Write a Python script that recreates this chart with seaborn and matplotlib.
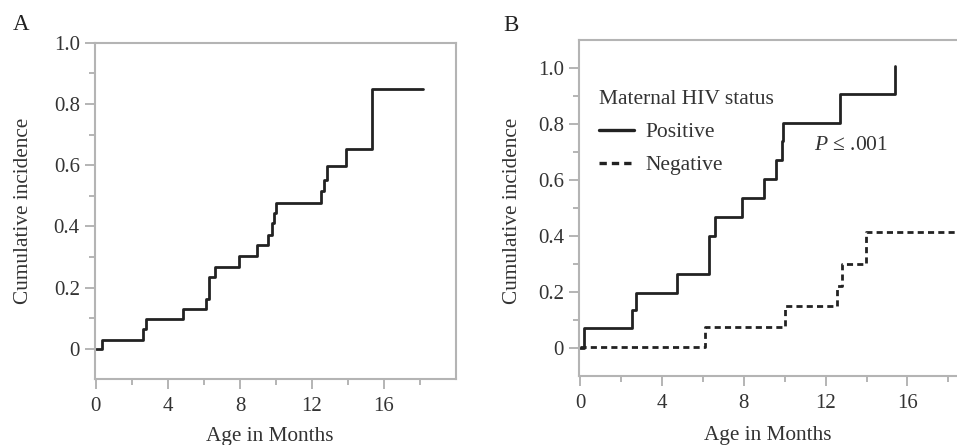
import numpy as np
import pandas as pd
import matplotlib
matplotlib.use("Agg")
import matplotlib.pyplot as plt
import seaborn as sns

# ---------------- data ----------------
# Panel A: overall cumulative incidence (step points, steps-post)
months_A = [0, 0.33, 2.6, 2.79, 4.82, 6.11, 6.3, 6.6, 7.96, 8.92, 9.56, 9.8, 9.88,
            10.02, 12.52, 12.66, 12.83, 13.9, 15.34, 18.18]
incidence_A = [0, 0.03, 0.063, 0.096, 0.13, 0.164, 0.234, 0.266, 0.302, 0.338, 0.37,
               0.41, 0.443, 0.476, 0.516, 0.552, 0.596, 0.653, 0.848, 0.848]

# Panel B: by maternal HIV status
months_pos = [0, 0.2, 2.54, 2.72, 4.71, 6.3, 6.61, 7.93, 8.97, 9.56, 9.84, 9.9, 12.69, 15.37]
incidence_pos = [0, 0.071, 0.135, 0.196, 0.263, 0.4, 0.468, 0.536, 0.602, 0.67, 0.74,
                 0.805, 0.906, 1.007]
months_neg = [0, 6.09, 10.0, 12.56, 12.8, 13.96, 18.6]
incidence_neg = [0.004, 0.075, 0.15, 0.221, 0.298, 0.412, 0.412]

status_labels = ["Positive", "Negative"]
legend_title = "Maternal HIV status"
p_text = r"$P$" + " \u2264 .001"

x_major = [0, 4, 8, 12, 16]
x_minor = [2, 6, 10, 14, 18]
y_major = [0, 0.2, 0.4, 0.6, 0.8, 1.0]
y_major_labels = ["0", "0.2", "0.4", "0.6", "0.8", "1.0"]
y_minor = [0.1, 0.3, 0.5, 0.7, 0.9]

# ---------------- style ----------------
sns.set_style("ticks")
plt.rcParams['font.family'] = ['Liberation Serif', 'DejaVu Serif']
plt.rcParams['mathtext.fontset'] = 'custom'
plt.rcParams['mathtext.it'] = 'Liberation Serif:italic'
plt.rcParams['mathtext.rm'] = 'Liberation Serif'

LINE = "#222222"
SPINE = "#b4b4b4"
TEXT = "#333333"
LW = 2.0
TICK_FS = 15
LABEL_FS = 15.3
LEG_FS = 15.5

fig = plt.figure(figsize=(9.57, 4.45), dpi=100)
axA = fig.add_axes([0.0993, 0.1476, 0.3772, 0.7564])
axB = fig.add_axes([0.6053, 0.1557, 0.4284, 0.7544])

dfA = pd.DataFrame({"month": months_A, "inc": incidence_A})
sns.lineplot(data=dfA, x="month", y="inc", ax=axA, color=LINE, lw=LW,
             drawstyle="steps-post", estimator=None, sort=False)

dfB = pd.concat([
    pd.DataFrame({"month": months_pos, "inc": incidence_pos, "status": status_labels[0]}),
    pd.DataFrame({"month": months_neg, "inc": incidence_neg, "status": status_labels[1]}),
], ignore_index=True)
sns.lineplot(data=dfB, x="month", y="inc", hue="status", style="status", ax=axB,
             palette={status_labels[0]: LINE, status_labels[1]: LINE},
             dashes={status_labels[0]: "", status_labels[1]: (2.2, 1.5)},
             lw=LW, drawstyle="steps-post", estimator=None, sort=False)

for ax, ylim in ((axA, (-0.1, 1.0)), (axB, (-0.1, 1.1))):
    ax.set_xlim(-0.05, 20)
    ax.set_ylim(*ylim)
    ax.set_xticks(x_major)
    ax.set_xticklabels([str(v) for v in x_major])
    ax.set_xticks(x_minor, minor=True)
    ax.set_yticks(y_major)
    ax.set_yticklabels(y_major_labels)
    ax.set_yticks(y_minor, minor=True)
    for s in ax.spines.values():
        s.set_visible(True)
        s.set_color(SPINE)
        s.set_linewidth(1.5)
    ax.tick_params(which="major", direction="out", length=7, width=1.4, color=SPINE,
                   labelsize=TICK_FS, labelcolor=TEXT)
    ax.tick_params(which="minor", direction="out", length=4.5, width=1.4, color=SPINE)
    ax.tick_params(axis="x", which="major", pad=6)
    ax.tick_params(axis="y", which="major", pad=4)
    ax.set_xlabel("Age in Months", fontsize=LABEL_FS, color=TEXT)
    ax.set_ylabel("Cumulative incidence", fontsize=LABEL_FS, color=TEXT)

axA.yaxis.set_label_coords(-0.172, 0.501)
axA.xaxis.set_label_coords(0.485, -0.143)
axB.yaxis.set_label_coords(-0.14, 0.4915)
axB.xaxis.set_label_coords(0.46, -0.151)

handles, labels = axB.get_legend_handles_labels()
for h in handles:
    h.set_linewidth(2.4)
leg = axB.legend(handles, labels, title=legend_title, loc="upper left",
                 bbox_to_anchor=(0.048, 0.85), frameon=False, alignment="left",
                 fontsize=LEG_FS, title_fontsize=LEG_FS, handlelength=1.65,
                 handletextpad=0.5, labelspacing=0.6, borderpad=0, borderaxespad=0)
for t in leg.get_texts():
    t.set_color(TEXT)
leg.get_title().set_color(TEXT)

axB.text(11.43, 0.706, p_text, fontsize=LEG_FS, color=TEXT, va="baseline", ha="left")

fig.text(13 / 957, 1 - 30 / 445, "A", fontsize=16.5, color="#222222", va="baseline")
fig.text(503 / 957, 1 - 30.7 / 445, "B", fontsize=16.5, color="#222222", va="baseline")

fig.savefig("out.png", dpi=100)
